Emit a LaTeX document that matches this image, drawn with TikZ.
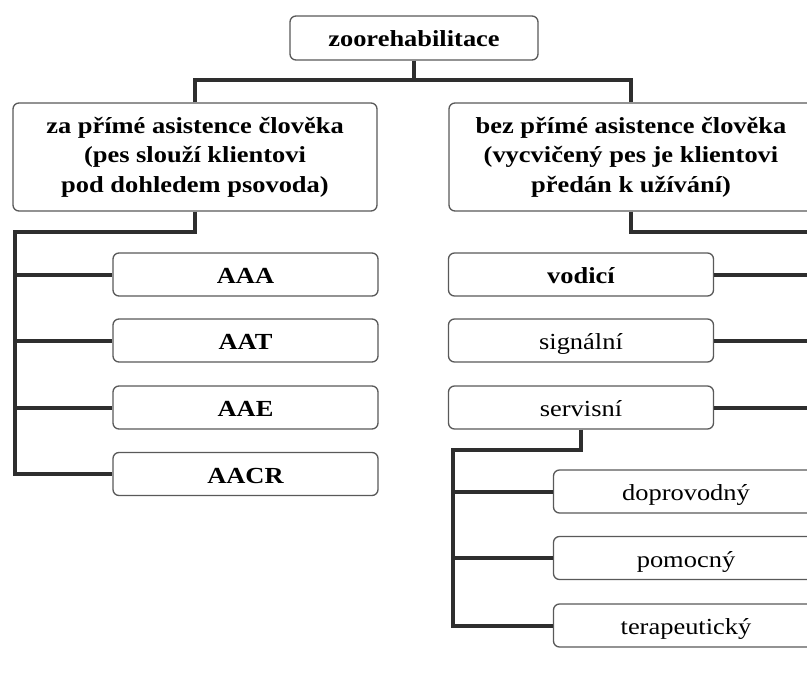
\documentclass[tikz,border=0pt]{standalone}
\usepackage{fontspec}
\setmainfont{Liberation Serif}[FakeStretch=1.15]
\usetikzlibrary{positioning,calc}

\begin{document}
\begin{tikzpicture}[x=1pt,y=-1pt,
    box/.style={draw=black!65, line width=1.3pt, rounded corners=6pt, fill=white, align=center, inner sep=0pt},
    top/.style={box, minimum width=248pt, minimum height=44pt, text height=17pt, text depth=0pt, font=\bfseries\fontsize{23}{27}\selectfont},
    big/.style={box, minimum width=364pt, minimum height=108pt, font=\bfseries\fontsize{23}{29.5}\selectfont},
    leaf/.style={box, minimum width=265pt, minimum height=43pt, text height=18pt, text depth=0pt, font=\fontsize{23}{27}\selectfont},
    leafb/.style={leaf, font=\bfseries\fontsize{23}{27}\selectfont},
    conn/.style={draw=black!82, line width=4pt}]
    \useasboundingbox (0,0) rectangle (807,675);

    % main node and the two groups
    \node[top] (root) at (414,38) {zoorehabilitace};
    \node[big] (lft) at (195,157) {za přímé asistence člověka\\(pes slouží klientovi\\pod dohledem psovoda)};
    \node[big] (rgt) at (631,157) {bez přímé asistence člověka\\(vycvičený pes je klientovi\\předán k užívání)};

    % with the handler
    \node[leafb] (aaa) at (245.5,274.5) {AAA};
    \node[leafb] (aat) at (245.5,340.5) {AAT};
    \node[leafb] (aae) at (245.5,407.5) {AAE};
    \node[leafb] (aacr) at (245.5,474) {AACR};

    % without the handler
    \node[leafb] (vod) at (581,274.5) {vodicí};
    \node[leaf] (sig) at (581,340.5) {signální};
    \node[leaf] (serv) at (581,407.5) {servisní};

    % kinds of service dogs
    \node[leaf] (doprov) at (686,491.5) {doprovodný};
    \node[leaf] (pomoc) at (686,558) {pomocný};
    \node[leaf] (terap) at (686,625.5) {terapeutický};

    % connectors
    \coordinate (split) at (414,80);
    \coordinate (lbend) at (15,232);
    \coordinate (rbend) at (822,232);
    \coordinate (sbend) at (453,450);

    \draw[conn] (root) -- (split);
    \draw[conn] (lft) |- (split) -| (rgt);

    \draw[conn] (lft) |- (lbend) |- (aacr);
    \foreach \n in {aaa,aat,aae} \draw[conn] (lbend |- \n) -- (\n);

    \draw[conn] (rgt) |- (rbend) |- (serv);
    \foreach \n in {vod,sig} \draw[conn] (rbend |- \n) -- (\n);

    \draw[conn] (serv) |- (sbend) |- (terap);
    \foreach \n in {doprov,pomoc} \draw[conn] (sbend |- \n) -- (\n);
\end{tikzpicture}
\end{document}
